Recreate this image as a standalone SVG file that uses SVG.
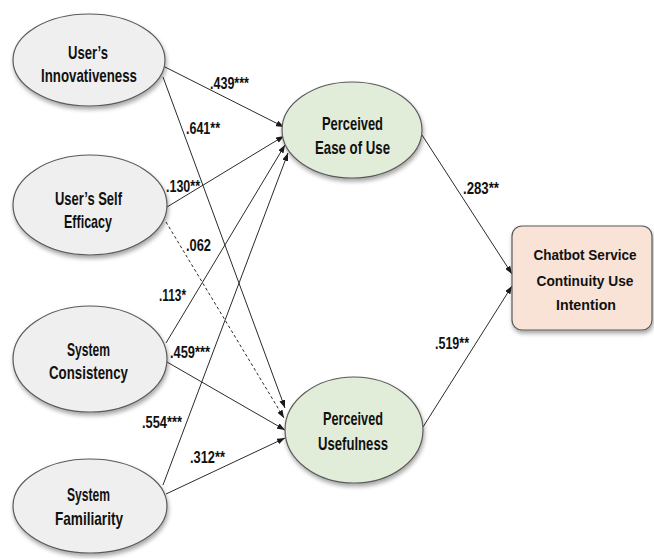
<svg xmlns="http://www.w3.org/2000/svg" width="654" height="559" viewBox="0 0 654 559">
<style>
.node{stroke:#5a5a5a;stroke-width:1.2;filter:url(#sh)}
.grey{fill:#EFEFEF}
.green{fill:#E2EDD9}
.peach{fill:#F9E2D6}
.nt{font-family:"Liberation Sans",Arial,sans-serif;font-weight:bold;font-size:19px;fill:#111;text-anchor:middle}
.ct{font-size:15.5px}
.lb{font-family:"Liberation Sans",Arial,sans-serif;font-weight:bold;font-size:16px;fill:#111}
.edge{stroke:#2a2a2a;stroke-width:1;fill:none;marker-end:url(#ah)}
.dash{stroke-dasharray:3,2.5}
</style>
<defs>
<filter id="sh" x="-10%" y="-10%" width="125%" height="130%">
<feDropShadow dx="1" dy="3" stdDeviation="2" flood-color="#000" flood-opacity="0.35"/>
</filter>
<marker id="ah" markerWidth="8" markerHeight="6" refX="8" refY="3" orient="auto" markerUnits="userSpaceOnUse">
<path d="M0,0 L8,3 L0,6 z" fill="#1a1a1a"/>
</marker>
</defs>
<rect width="654" height="559" fill="#fff"/>
<g id="connectors">
<line class="edge" x1="165" y1="67" x2="284" y2="127"/>
<line class="edge" x1="163" y1="77" x2="285" y2="408"/>
<line class="edge" x1="167" y1="207" x2="284" y2="136"/>
<line class="edge dash" x1="166" y1="222" x2="284" y2="418"/>
<line class="edge" x1="166" y1="343" x2="285" y2="145"/>
<line class="edge" x1="167" y1="362" x2="285" y2="430"/>
<line class="edge" x1="163" y1="485" x2="288" y2="153"/>
<line class="edge" x1="166" y1="494" x2="285" y2="438"/>
<line class="edge" x1="422" y1="135" x2="512" y2="274"/>
<line class="edge" x1="423" y1="427" x2="512" y2="286"/>
</g>
<g id="edge-labels">
<text class="lb" x="210" y="89" textLength="39" lengthAdjust="spacingAndGlyphs">.439***</text>
<text class="lb" x="186" y="134" textLength="34" lengthAdjust="spacingAndGlyphs">.641**</text>
<text class="lb" x="166" y="192" textLength="34" lengthAdjust="spacingAndGlyphs">.130**</text>
<text class="lb" x="186" y="251" textLength="25" lengthAdjust="spacingAndGlyphs">.062</text>
<text class="lb" x="159" y="301" textLength="27" lengthAdjust="spacingAndGlyphs">.113*</text>
<text class="lb" x="170" y="358" textLength="40" lengthAdjust="spacingAndGlyphs">.459***</text>
<text class="lb" x="142" y="428" textLength="40" lengthAdjust="spacingAndGlyphs">.554***</text>
<text class="lb" x="190" y="463" textLength="35" lengthAdjust="spacingAndGlyphs">.312**</text>
<text class="lb" x="463" y="194" textLength="36" lengthAdjust="spacingAndGlyphs">.283**</text>
<text class="lb" x="435" y="349" textLength="34" lengthAdjust="spacingAndGlyphs">.519**</text>
</g>
<g id="users-innovativeness">
<ellipse class="node grey" cx="89" cy="60" rx="76" ry="46"/>
<text class="nt" x="88" y="58.5" textLength="40" lengthAdjust="spacingAndGlyphs">User’s</text>
<text class="nt" x="89" y="81.5" textLength="96" lengthAdjust="spacingAndGlyphs">Innovativeness</text>
</g>
<g id="users-self-efficacy">
<ellipse class="node grey" cx="90" cy="205" rx="77" ry="50"/>
<text class="nt" x="88.5" y="204.5" textLength="67" lengthAdjust="spacingAndGlyphs">User’s Self</text>
<text class="nt" x="88" y="227.5" textLength="48" lengthAdjust="spacingAndGlyphs">Efficacy</text>
</g>
<g id="system-consistency">
<ellipse class="node grey" cx="90" cy="359" rx="77" ry="53"/>
<text class="nt" x="88.5" y="355.5" textLength="43" lengthAdjust="spacingAndGlyphs">System</text>
<text class="nt" x="88.5" y="378.5" textLength="79" lengthAdjust="spacingAndGlyphs">Consistency</text>
</g>
<g id="system-familiarity">
<ellipse class="node grey" cx="90" cy="506" rx="77" ry="47"/>
<text class="nt" x="88.5" y="500.5" textLength="43" lengthAdjust="spacingAndGlyphs">System</text>
<text class="nt" x="89" y="524.5" textLength="68" lengthAdjust="spacingAndGlyphs">Familiarity</text>
</g>
<g id="perceived-ease-of-use">
<ellipse class="node green" cx="352" cy="130" rx="70" ry="48"/>
<text class="nt" x="352.5" y="129.5" textLength="61" lengthAdjust="spacingAndGlyphs">Perceived</text>
<text class="nt" x="352.5" y="153.5" textLength="75" lengthAdjust="spacingAndGlyphs">Ease of Use</text>
</g>
<g id="perceived-usefulness">
<ellipse class="node green" cx="354" cy="430" rx="69" ry="53"/>
<text class="nt" x="353" y="424.5" textLength="60" lengthAdjust="spacingAndGlyphs">Perceived</text>
<text class="nt" x="353" y="449.5" textLength="70" lengthAdjust="spacingAndGlyphs">Usefulness</text>
</g>
<g id="chatbot-continuity">
<rect class="node peach" x="512" y="226" width="140" height="104" rx="10"/>
<text class="nt ct" x="585" y="260" textLength="103" lengthAdjust="spacingAndGlyphs">Chatbot Service</text>
<text class="nt ct" x="585" y="285.5" textLength="97" lengthAdjust="spacingAndGlyphs">Continuity Use</text>
<text class="nt ct" x="586" y="310" textLength="60" lengthAdjust="spacingAndGlyphs">Intention</text>
</g>
</svg>
